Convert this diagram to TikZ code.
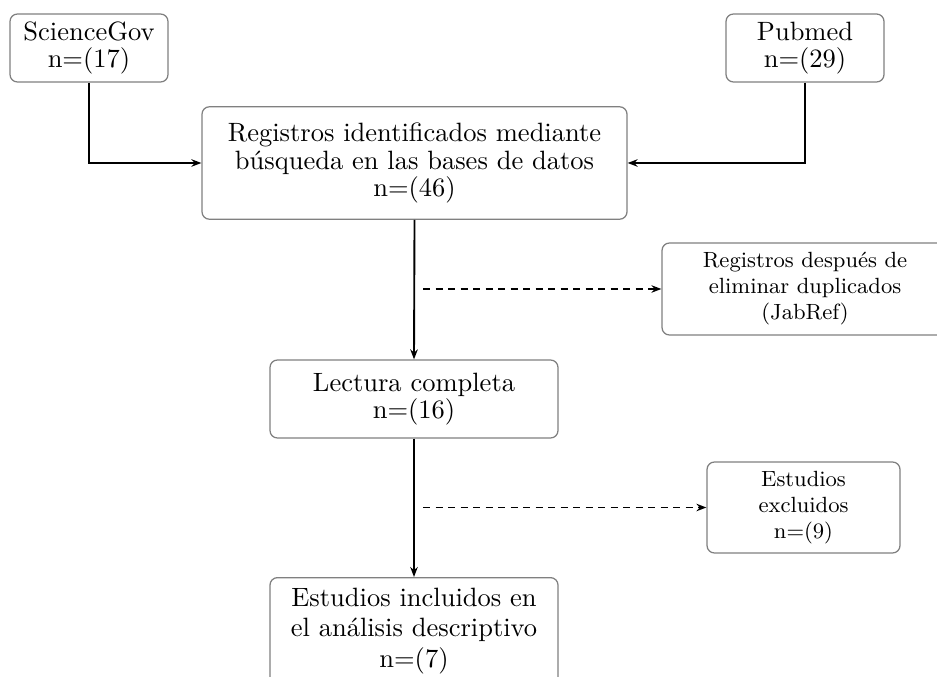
\documentclass[tikz,border=0pt]{standalone}
\usetikzlibrary{arrows.meta}
\begin{document}
\begin{tikzpicture}[x=0.4pt,y=-0.4pt,
  box/.style={draw=black!50, rounded corners=3pt, align=center, inner sep=0pt, line width=0.5pt},
  big/.style={font=\fontsize{10.6}{11}\selectfont},
  sml/.style={font=\fontsize{8.8}{10.4}\selectfont},
  conn/.style={-{Stealth[length=4pt,width=3pt]}, line width=0.75pt},
  dconn/.style={-{Stealth[length=4pt,width=3pt]}, line width=0.6pt, dash pattern=on 2.8pt off 2.2pt}]
\useasboundingbox (0,0) rectangle (937,677);
\node[box, big, minimum width=63.2pt, minimum height=27.2pt] (sg) at (89,48) {ScienceGov\\n=(17)};
\node[box, big, minimum width=63.2pt, minimum height=27.2pt] (pm) at (805,48) {Pubmed\\n=(29)};
\node[box, big, minimum width=170pt, minimum height=45pt] (main) at (414.5,163) {Registros identificados mediante\\b\'usqueda en las bases de datos\\n=(46)};
\node[box, sml, minimum width=114.4pt, minimum height=36.8pt] (s1) at (805,289) {Registros despu\'es de\\eliminar duplicados\\(JabRef)};
\node[box, big, minimum width=115.2pt, minimum height=31.2pt] (lec) at (414,399) {Lectura completa\\n=(16)};
\node[box, sml, minimum width=77.2pt, minimum height=36.4pt] (s2) at (803.5,507.5) {Estudios\\excluidos\\n=(9)};
\node[box, font=\fontsize{10.6}{12.3}\selectfont, minimum width=115.2pt, inner xsep=4pt, inner ysep=4pt, anchor=north] (inc) at (414,577) {Estudios incluidos en\\el an\'alisis descriptivo\\n=(7)};
\coordinate (d1) at (423,289);
\coordinate (d2) at (423,507.5);
\draw[conn] (sg.south) |- (main.west);
\draw[conn] (pm.south) |- (main.east);
\draw[conn] (main.south) -- (lec.north);
\draw[conn] (lec.south) -- (inc.north);
\draw[dconn] (d1) -- (s1.west);
\draw[dconn] (d2) -- (s2.west);
\end{tikzpicture}
\end{document}
